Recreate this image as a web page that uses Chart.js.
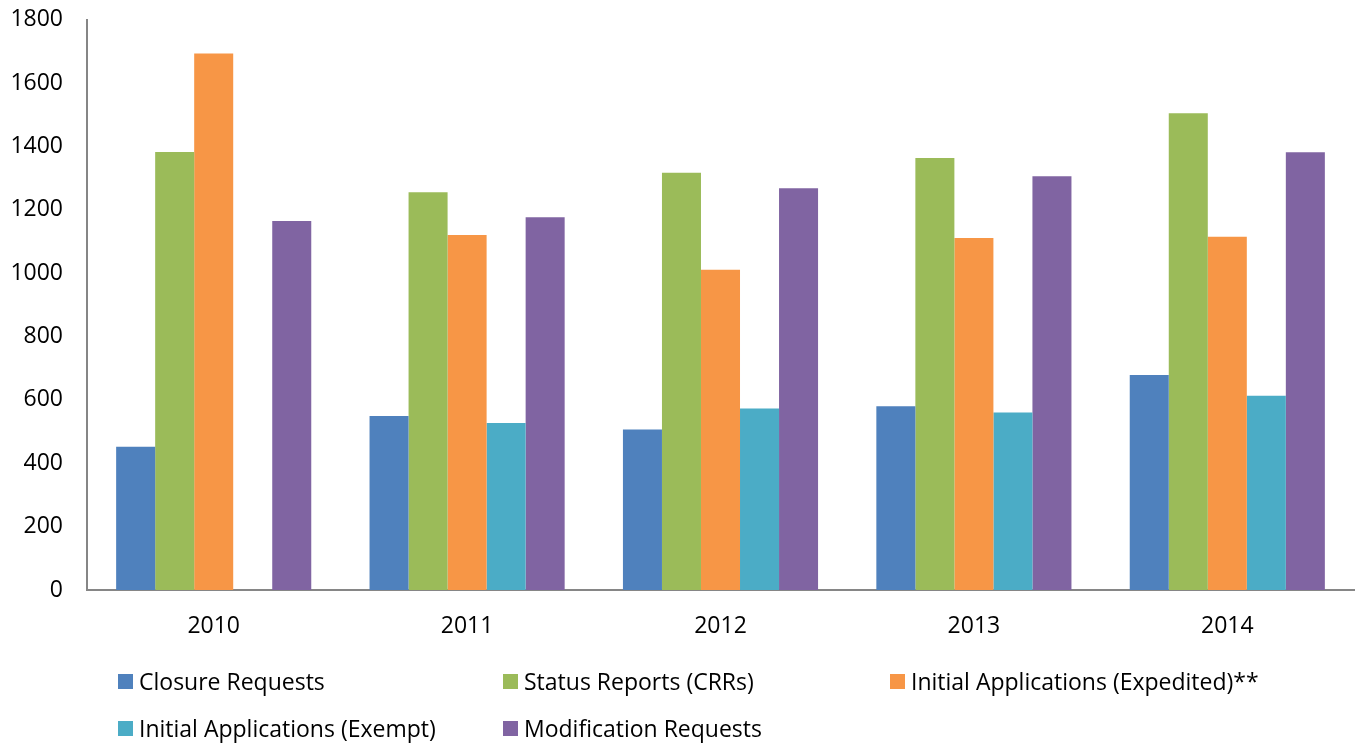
<!DOCTYPE html>
<html>
<head>
<meta charset="utf-8">
<script src="https://cdn.jsdelivr.net/npm/chart.js@4/dist/chart.umd.min.js"></script>
<style>
  html, body { margin: 0; padding: 0; background: #fff; overflow: hidden; }
  #wrap { position: relative; width: 1357px; height: 744px; overflow: hidden; }
  #chartBox { position: absolute; left: 0; top: -18px; width: 1357px; height: 762px; }
  #legend { position: absolute; left: 0; top: 0; width: 1357px; height: 744px; pointer-events: none;
            font-family: "Open Sans", sans-serif; font-size: 23px; color: #000; }
  .item { position: absolute; display: flex; align-items: center; white-space: nowrap; }
  .sw { width: 15px; height: 15px; margin-right: 6px; }
</style>
</head>
<body>
<div id="wrap">
  <div id="chartBox"><canvas id="c"></canvas></div>
  <div id="legend"></div>
</div>
<script>
const categories = ["2010", "2011", "2012", "2013", "2014"];
const closureRequests = [452, 549, 507, 580, 679];
const statusReports = [1383, 1256, 1317, 1364, 1505];
const initialExpedited = [1694, 1121, 1011, 1111, 1115];
const initialExempt = [null, 527, 573, 560, 613];
const modificationRequests = [1165, 1177, 1268, 1306, 1382];
const seriesNames = ["Closure Requests", "Status Reports (CRRs)", "Initial Applications (Expedited)**", "Initial Applications (Exempt)", "Modification Requests"];
const seriesColors = ["#4F81BD", "#9BBB59", "#F79646", "#4BACC6", "#8064A2"];
const yTicks = { min: 0, max: 1800, step: 200 };

const seriesData = [closureRequests, statusReports, initialExpedited, initialExempt, modificationRequests];
const FONT = "'Open Sans', sans-serif";

new Chart(document.getElementById("c"), {
  type: "bar",
  data: {
    labels: categories,
    datasets: seriesData.map((d, i) => ({
      label: seriesNames[i],
      data: d,
      backgroundColor: seriesColors[i],
      borderWidth: 0,
      categoryPercentage: 0.77,
      barPercentage: 1.0
    }))
  },
  options: {
    responsive: true,
    maintainAspectRatio: false,
    animation: false,
    layout: { padding: { top: 8, right: 3, left: 0, bottom: 94 } },
    plugins: { legend: { display: false }, tooltip: { enabled: false } },
    scales: {
      x: {
        grid: { display: false, drawTicks: false },
        border: { color: "#868686", width: 2 },
        ticks: { color: "#000", font: { family: FONT, size: 23 }, padding: 23 },
        afterFit: s => { s.height = 60; }
      },
      y: {
        min: yTicks.min, max: yTicks.max,
        grid: { display: false, drawTicks: false },
        border: { color: "#868686", width: 2 },
        ticks: { stepSize: yTicks.step, color: "#000", font: { family: FONT, size: 23 }, padding: 24,
                 callback: v => String(v) },
        afterFit: s => { s.width = 87; }
      }
    }
  }
});

const legendPos = [[118, 681], [503, 681], [890, 681], [118, 728], [503, 728]];
const lg = document.getElementById("legend");
seriesNames.forEach((name, i) => {
  const it = document.createElement("div");
  it.className = "item";
  it.style.left = legendPos[i][0] + "px";
  it.style.top = (legendPos[i][1] - 16) + "px";
  it.style.height = "32px";
  const sw = document.createElement("span");
  sw.className = "sw";
  sw.style.background = seriesColors[i];
  const tx = document.createElement("span");
  tx.textContent = name;
  it.appendChild(sw); it.appendChild(tx);
  lg.appendChild(it);
});
</script>
</body>
</html>
